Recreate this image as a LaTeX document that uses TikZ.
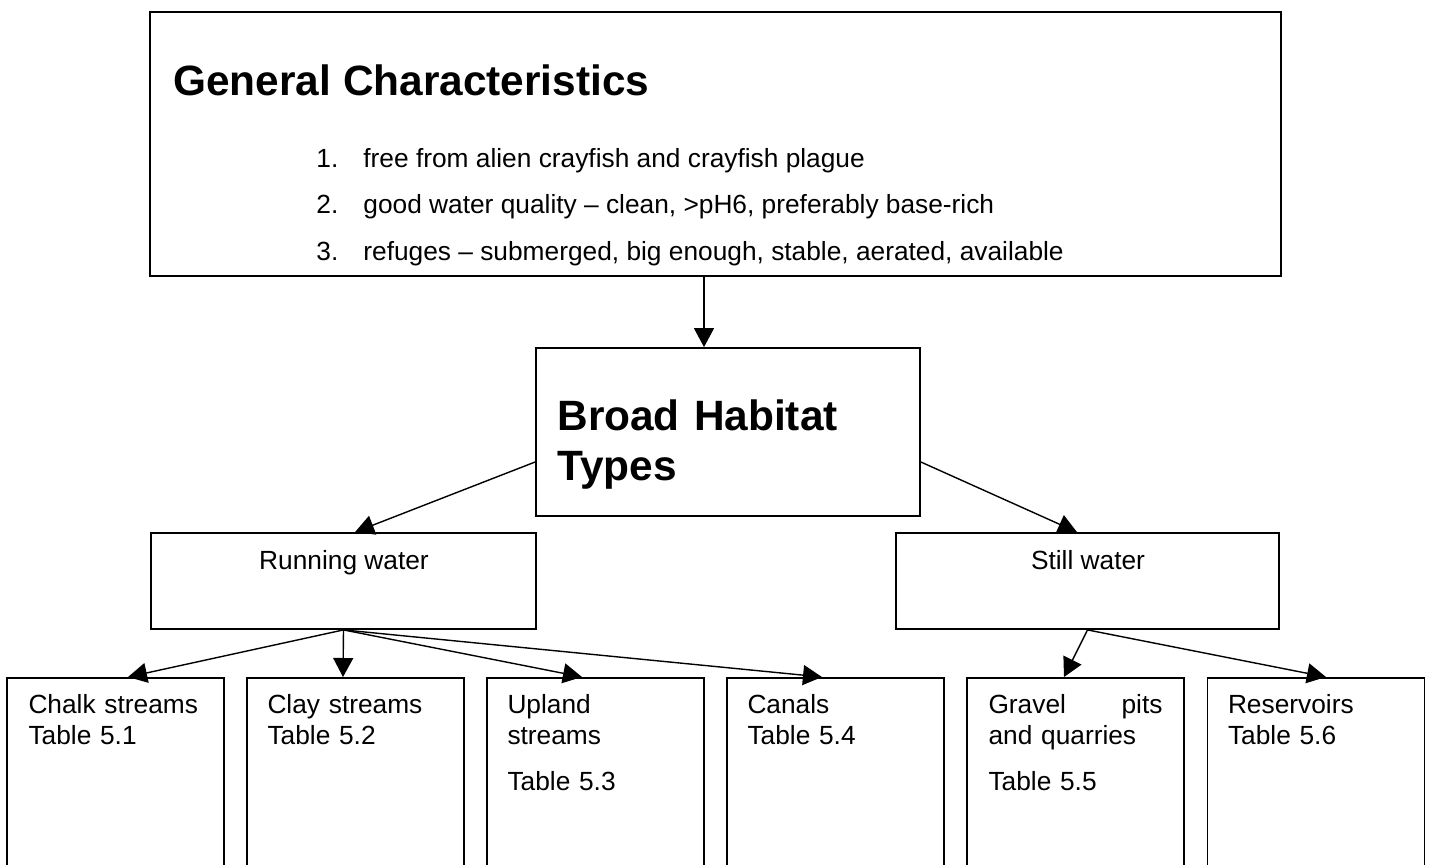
\documentclass[tikz,border=0pt]{standalone}
\usepackage{fontspec}
\setmainfont{Liberation Sans}
\usetikzlibrary{arrows.meta}
\newcommand{\txtsize}{\fontsize{13.15pt}{15.5pt}\selectfont}
\newcommand{\headsize}{\fontsize{21.2pt}{25pt}\selectfont\bfseries}
\tikzset{
  box/.style={draw,line width=0.9pt,inner sep=0pt},
  leaf/.style={box,anchor=north,minimum width=108.5pt,minimum height=150pt},
  leaftext/.style={anchor=base west,inner sep=0pt,text width=87pt,align=left,font=\txtsize},
  item/.style={anchor=base west,inner sep=0pt,font=\txtsize},
  arr/.style={-{Triangle[length=9.5pt,width=10pt]},line width=0.7pt}
}
\begin{document}
\begin{tikzpicture}[x=0.5pt,y=-0.5pt]
    \useasboundingbox (0,0) rectangle (1431,864);
    \clip (0,0) rectangle (1431,864);
    % general characteristics
    \node[box,minimum width=565.5pt,minimum height=132pt] (gen) at (715.5,144) {};
    \node[anchor=base west,inner sep=0pt,font=\headsize] (gentitle) at (173,95) {General Characteristics};
    \node[item] (n1) at (316,167) {1.};
    \node[item] (t1) at (363,167) {free from alien crayfish and crayfish plague};
    \node[item] (n2) at (316,213) {2.};
    \node[item] (t2) at (363,213) {good water quality -- clean, >pH6, preferably base-rich};
    \node[item] (n3) at (316,260) {3.};
    \node[item] (t3) at (363,260) {refuges -- submerged, big enough, stable, aerated, available};
    % broad habitat types
    \node[box,minimum width=192pt,minimum height=84pt] (broad) at (728,432) {};
    \node[anchor=base west,inner sep=0pt,text width=180pt,align=left,font=\headsize] (broadtitle) at (557,430) {Broad Habitat\\Types};
    \node[box,minimum width=192.5pt,minimum height=48pt] (run) at (343.5,581) {};
    \node[anchor=base,inner sep=0pt,font=\txtsize] (runtitle) at (344,569) {Running water};
    \node[box,minimum width=191.5pt,minimum height=48pt] (still) at (1087.5,581) {};
    \node[anchor=base,inner sep=0pt,font=\txtsize] (stilltitle) at (1088,569) {Still water};
    % habitats
    \node[leaf] (chalk) at (115.5,677) {};
    \node[leaf] (clay) at (355.5,677) {};
    \node[leaf] (upland) at (595.5,677) {};
    \node[leaf] (canals) at (835.5,677) {};
    \node[leaf] (gravel) at (1075.5,677) {};
    \node[leaf] (reserv) at (1316,677) {};
    \node[leaftext] (chalktext) at ([xshift=11pt,yshift=-18pt]chalk.north west) {Chalk streams\\Table 5.1};
    \node[leaftext] (claytext) at ([xshift=10.5pt,yshift=-18pt]clay.north west) {Clay streams\\Table 5.2};
    \node[leaftext] (uplandtext) at ([xshift=10.5pt,yshift=-18pt]upland.north west) {Upland\\streams\\[7.5pt]Table 5.3};
    \node[leaftext] (canalstext) at ([xshift=10.5pt,yshift=-18pt]canals.north west) {Canals\\Table 5.4};
    \node[leaftext] (graveltext) at ([xshift=11pt,yshift=-18pt]gravel.north west) {Gravel\hfill pits\\and quarries\\[7.5pt]Table 5.5};
    \node[leaftext] (reservtext) at ([xshift=10.5pt,yshift=-18pt]reserv.north west) {Reservoirs\\Table 5.6};
    % arrows
    \draw[arr] ([xshift=-5.75pt]gen.south) -- ([xshift=-12pt]broad.north);
    \draw[arr] ([yshift=-15pt]broad.west) -- ([xshift=5.75pt]run.north);
    \draw[arr] ([yshift=-15pt]broad.east) -- ([xshift=-5.25pt]still.north);
    \draw[arr] (run.south) -- ([xshift=6.25pt]chalk.north);
    \draw[arr] (run.south) -- ([xshift=-6.25pt]clay.north);
    \draw[arr] (run.south) -- ([xshift=-6.75pt]upland.north);
    \draw[arr] (run.south) -- ([xshift=-6.75pt]canals.north);
    \draw[arr] (still.south) -- ([xshift=-5.75pt]gravel.north);
    \draw[arr] (still.south) -- ([xshift=5pt]reserv.north);
\end{tikzpicture}
\end{document}
